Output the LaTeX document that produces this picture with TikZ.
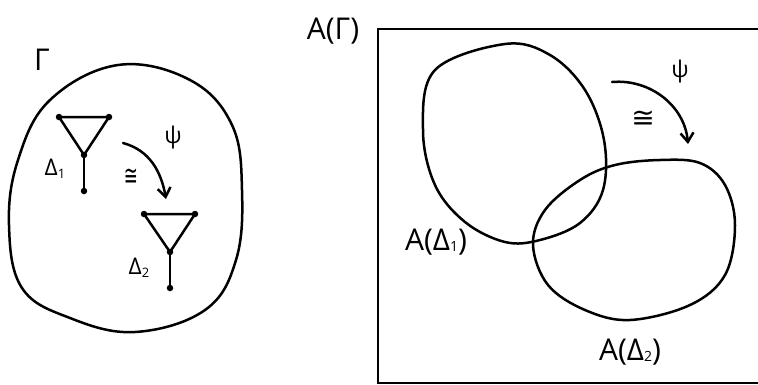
\documentclass[tikz,border=0pt]{standalone}
\usepackage{fontspec}
\setmainfont{Open Sans}
\newfontfamily\symf{DejaVu Sans}
\usetikzlibrary{arrows.meta}
\tikzset{
  pen/.style={line width=2.5pt, line join=round, line cap=round},
  vdot/.style={circle, fill=black, inner sep=0pt, minimum size=6.5pt},
  lbl/.style={inner sep=0pt, font=\fontsize{30}{32}\selectfont},
  slbl/.style={inner sep=0pt, font=\fontsize{23}{25}\selectfont},
  cg/.style={inner sep=0pt, font=\symf\fontsize{28}{30}\selectfont},
  arr/.style={pen, -{Straight Barb[length=9pt,width=13pt,line width=2.5pt]}}
}
\begin{document}
\begin{tikzpicture}[x=1pt,y=-1pt]
\useasboundingbox (0,0) rectangle (758,384);
% Left blob Gamma
\draw[pen] plot[smooth cycle, tension=0.65] coordinates {
  (118,65) (190,80) (232,125) (242,190) (236,260) (205,310) (135,332)
  (70,318) (22,288) (9,225) (18,160) (50,100)};
\node[lbl] (gam) at (42,60) {Γ};
% Delta 1
\node[vdot] (a1) at (59,117) {};
\node[vdot] (b1) at (109,117) {};
\node[vdot] (c1) at (84,155) {};
\node[vdot] (d1) at (84,191) {};
\draw[pen] (a1.center) -- (b1.center) -- (c1.center) -- cycle;
\draw[pen] (c1.center) -- (d1.center);
\node[slbl] (l1) at (55,169) {Δ\raisebox{-3pt}{\fontsize{13}{13}\selectfont 1}};
% Delta 2
\node[vdot] (a2) at (144,214) {};
\node[vdot] (b2) at (195,214) {};
\node[vdot] (c2) at (170,252) {};
\node[vdot] (d2) at (170,288) {};
\draw[pen] (a2.center) -- (b2.center) -- (c2.center) -- cycle;
\draw[pen] (c2.center) -- (d2.center);
\node[slbl] (l2) at (139,268) {Δ\raisebox{-3pt}{\fontsize{13}{13}\selectfont 2}};
% arrow left
\coordinate (s1) at (123,143);
\coordinate (e1) at (166,199);
\draw[arr] (s1) to[out=-15,in=100] (e1);
\node[slbl] (psi1) at (173,138) {ψ};
\node[cg, xscale=0.6] (cong1) at (131,177) {≅};
% Right: rectangle
\coordinate (r1) at (378,383);
\coordinate (r2) at (378,29);
\coordinate (r3) at (760,29);
\coordinate (r4) at (760,383);
\draw[line width=2.8pt] (r3) -- (r2) -- (r1) -- (r4);
\node[lbl] (AG) at (333,31) {A(Γ)};
% Ellipse A(Delta1)
\draw[pen] plot[smooth cycle, tension=0.6] coordinates {
  (505,44) (550,55) (585,90) (604,140) (603,190) (580,223) (540,240)
  (505,242) (465,222) (435,185) (423,130) (435,70)};
% Ellipse A(Delta2)
\draw[pen] plot[smooth cycle, tension=0.6] coordinates {
  (660,160) (700,163) (725,185) (735,225) (725,275) (690,305) (630,320)
  (585,310) (548,285) (533,245) (545,210) (580,180) (615,165)};
\node[lbl] (AD1) at (436,242) {A(Δ\raisebox{-1pt}{\fontsize{14}{14}\selectfont 1})};
\node[lbl] (AD2) at (630,352) {A(Δ\raisebox{-1pt}{\fontsize{14}{14}\selectfont 2})};
% arrow right
\coordinate (s2) at (612,82);
\coordinate (e2) at (688,144);
\draw[arr] (s2) to[out=5,in=95] (e2);
\node[slbl] (psi2) at (680,72) {ψ};
\node[cg] (cong2) at (643,119) {≅};
\end{tikzpicture}
\end{document}
